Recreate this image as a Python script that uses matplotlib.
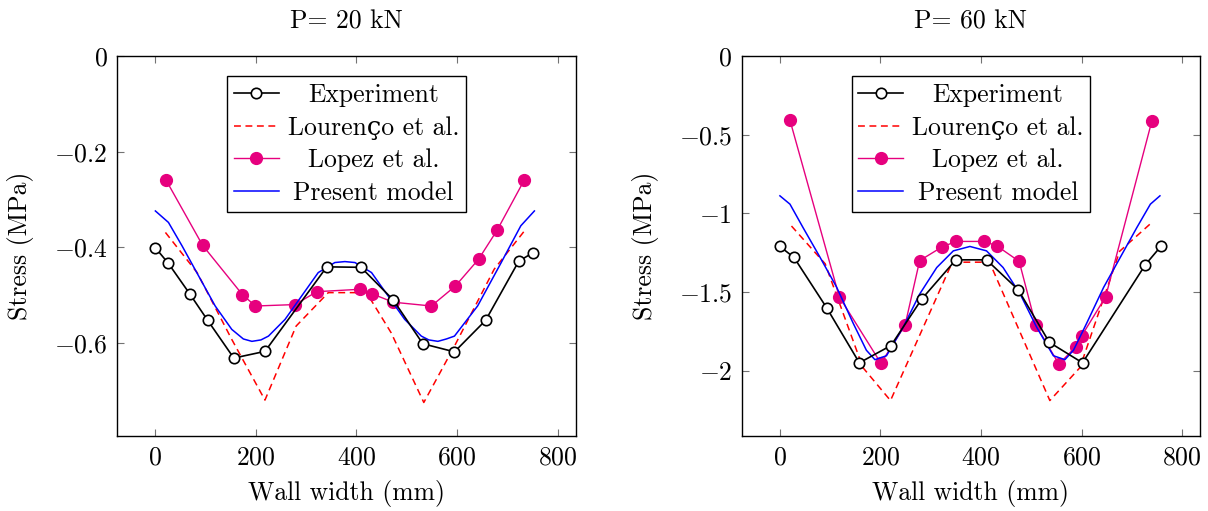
import matplotlib
matplotlib.use("Agg")
import matplotlib.pyplot as plt

plt.rcParams["font.family"] = ["cmr10", "DejaVu Serif"]
plt.rcParams["mathtext.fontset"] = "cm"
plt.rcParams["axes.unicode_minus"] = False
plt.rcParams["font.size"] = 18.5

# ---------------- P = 20 kN ----------------
exp20_x = [0, 26, 68, 104, 156, 218, 341, 409, 473, 532, 595, 657, 723, 752]
exp20_y = [-0.401, -0.434, -0.497, -0.553, -0.632, -0.618, -0.441, -0.442,
           -0.510, -0.602, -0.619, -0.553, -0.429, -0.411]

lou20_x = [20, 83, 152, 218, 280, 344, 420, 469, 534, 595, 674, 734]
lou20_y = [-0.369, -0.453, -0.593, -0.720, -0.565, -0.495, -0.495, -0.579,
           -0.725, -0.607, -0.446, -0.366]

lop20_x = [21, 94, 173, 199, 278, 321, 407, 430, 473, 549, 597, 643, 680, 734]
lop20_y = [-0.259, -0.396, -0.499, -0.523, -0.520, -0.493, -0.488, -0.497,
           -0.515, -0.523, -0.481, -0.425, -0.364, -0.259]

pm20_x = [0, 26, 53, 86, 119, 152, 175, 192, 210, 225, 258, 291, 324, 357, 377,
          397, 430, 463, 496, 529, 544, 562, 579, 595, 641, 688, 727, 754]
pm20_y = [-0.324, -0.348, -0.397, -0.460, -0.523, -0.572, -0.592, -0.597, -0.594,
          -0.586, -0.551, -0.502, -0.453, -0.432, -0.430, -0.432, -0.453, -0.502,
          -0.551, -0.586, -0.594, -0.597, -0.592, -0.586, -0.523, -0.432, -0.355,
          -0.324]

# ---------------- P = 60 kN ----------------
exp60_x = [0, 28, 93, 158, 221, 282, 350, 411, 474, 536, 602, 727, 759]
exp60_y = [-1.21, -1.28, -1.60, -1.95, -1.84, -1.545, -1.295, -1.295, -1.485,
           -1.82, -1.95, -1.326, -1.205]

lou60_x = [23, 90, 165, 220, 343, 417, 537, 597, 676, 739]
lou60_y = [-1.08, -1.32, -1.98, -2.19, -1.31, -1.31, -2.19, -1.98, -1.24, -1.06]

lop60_x = [20, 118, 201, 249, 278, 323, 351, 406, 431, 476, 509, 555, 589, 600,
           648, 740]
lop60_y = [-0.407, -1.53, -1.953, -1.71, -1.30, -1.212, -1.178, -1.178, -1.205,
           -1.305, -1.71, -1.958, -1.847, -1.78, -1.53, -0.411]

pm60_x = [0, 20, 46, 80, 113, 146, 172, 189, 212, 245, 278, 312, 345, 378,
          411, 444, 478, 511, 544, 567, 584, 610, 644, 677, 710, 737, 756]
pm60_y = [-0.888, -0.941, -1.09, -1.28, -1.47, -1.70, -1.87, -1.93, -1.905,
          -1.725, -1.513, -1.344, -1.238, -1.21, -1.238, -1.344, -1.513, -1.725,
          -1.905, -1.93, -1.87, -1.70, -1.47, -1.28, -1.09, -0.941, -0.888]

titles = ["P= 20 kN", "P= 60 kN"]
x_ticks = [0, 200, 400, 600, 800]
y_ticks_20 = [0, -0.2, -0.4, -0.6]
y_labels_20 = ["$0$", "$-0.2$", "$-0.4$", "$-0.6$"]
y_ticks_60 = [0, -0.5, -1, -1.5, -2]
y_labels_60 = ["$0$", "$-0.5$", "$-1$", "$-1.5$", "$-2$"]

magenta = "#E6007E"

fig = plt.figure(figsize=(12.08, 5.11), dpi=100)
ax1 = fig.add_axes([0.097, 0.146, 0.3795, 0.744])
ax2 = fig.add_axes([0.614, 0.146, 0.3795, 0.744])

panels = [
    (ax1, exp20_x, exp20_y, lou20_x, lou20_y, lop20_x, lop20_y, pm20_x, pm20_y,
     (-0.796, 0), y_ticks_20, y_labels_20, titles[0]),
    (ax2, exp60_x, exp60_y, lou60_x, lou60_y, lop60_x, lop60_y, pm60_x, pm60_y,
     (-2.418, 0), y_ticks_60, y_labels_60, titles[1]),
]

legends = []
for ax, ex, ey, lx, ly, px, py, mx, my, ylim, yt, ytl, title in panels:
    ax.plot(ex, ey, color="black", lw=1.2, marker="o", ms=7.5,
            mfc="white", mec="black", mew=1.2, label="Experiment", zorder=4)
    ax.plot(lx, ly, color="red", lw=1.1, ls=(0, (4.5, 3)),
            label="Lourenço et al.", zorder=2)
    ax.plot(px, py, color=magenta, lw=1.0, marker="o", ms=8.5,
            mfc=magenta, mec=magenta, label="Lopez et al.", zorder=3)
    ax.plot(mx, my, color="#0000FF", lw=1.1, label="Present model", zorder=3)

    ax.set_xlim(-76, 836)
    ax.set_ylim(*ylim)
    ax.set_xticks(x_ticks)
    ax.set_xticklabels([f"${t}$" for t in x_ticks])
    ax.set_yticks(yt)
    ax.set_yticklabels(ytl)
    ax.tick_params(direction="in", top=True, right=True, length=5,
                   width=0.8, color="0.45", labelsize=18.5, pad=7)
    for s in ax.spines.values():
        s.set_linewidth(1.0)
    ax.set_xlabel("Wall width (mm)", fontsize=18.5, labelpad=7)
    ax.set_ylabel("Stress (MPa)", fontsize=18.5, labelpad=14)
    ax.set_title(title, fontsize=18.5, pad=20)

    leg = ax.legend(loc="upper center", bbox_to_anchor=(0.5, 0.947),
                    borderaxespad=0, fancybox=False, framealpha=1,
                    edgecolor="black", fontsize=18.5, handlelength=1.75,
                    labelspacing=0.36, borderpad=0.25, handletextpad=0.35)
    leg.get_frame().set_linewidth(1.0)
    legends.append(leg)

# centre legend labels within their column, as pgfplots does
fig.canvas.draw()
for leg in legends:
    texts = leg.get_texts()
    widths = [t.get_window_extent().width for t in texts]
    wmax = max(widths)
    for t, w in zip(texts, widths):
        t.set_x((wmax - w) / 2)

fig.savefig("out.png", dpi=100)
